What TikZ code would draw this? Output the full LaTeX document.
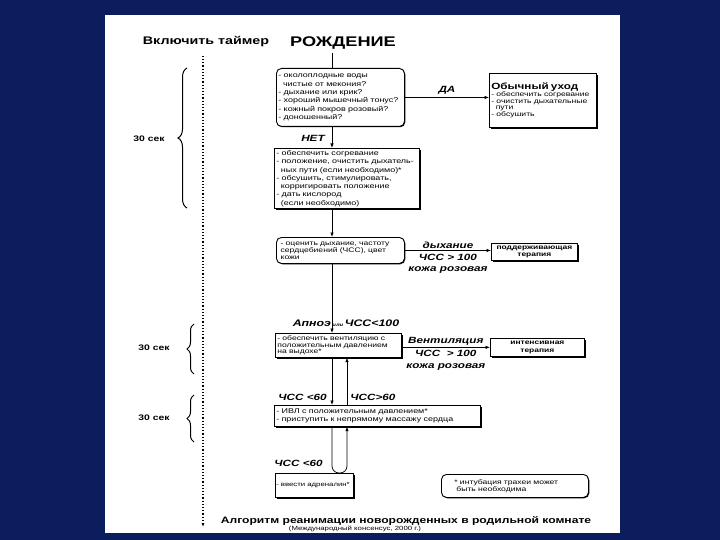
\documentclass[tikz,border=0pt]{standalone}
\usepackage{fontspec}
\setmainfont{Liberation Sans}[FakeStretch=1.3]
\usetikzlibrary{arrows.meta,positioning,shadows,calc,decorations.pathreplacing}
\definecolor{cnavy}{HTML}{0C1D5E}
\tikzset{
  box/.style={draw, fill=white, anchor=north west, align=left, inner sep=2pt, line width=0.7pt},
  sbox/.style={box, drop shadow={shadow xshift=1.8pt, shadow yshift=-1.8pt, fill=black, opacity=1}},
  rbox/.style={box, rounded corners=5pt, line width=0.9pt, drop shadow={shadow xshift=0.8pt, shadow yshift=-0.8pt, fill=black, opacity=1}},
  pre/.style={-{Latex[length=4.5pt, width=3.5pt]}, line width=0.7pt},
  lbl/.style={font=\fontsize{9}{10}\selectfont\bfseries\itshape, inner sep=1pt, align=center},
  secl/.style={font=\fontsize{8}{9}\selectfont\bfseries},
  tbrace/.style={decorate, decoration={brace, amplitude=7pt}, line width=1pt},
  big/.style={font=\fontsize{6.9}{8.3}\selectfont},
  small/.style={font=\fontsize{6.6}{6.9}\selectfont},
}
\begin{document}
\begin{tikzpicture}[x=1pt, y=-1pt]
\useasboundingbox (0,0) rectangle (720,540);
\fill[cnavy] (0,0) rectangle (720,540);
\fill[white] (105,15) rectangle (620,533);
% headings
\node[font=\fontsize{11}{12}\selectfont\bfseries] (timer) at (206,42) {Включить таймер};
\node[font=\fontsize{14}{15}\selectfont\bfseries] (birth) at (343,43) {РОЖДЕНИЕ};
\coordinate (mainx) at (332,0);
\coordinate (altx) at (347,0);
\coordinate (tend) at (203,527);
% boxes
\node[rbox, big, text width=124pt, minimum height=58pt] (assess) at (276,68) {- околоплодные воды\\\ \ чистые от мекония?\\- дыхание или крик?\\- хороший мышечный тонус?\\- кожный покров розовый?\\- доношенный?};
\node[sbox, small, text width=103pt, minimum height=54pt] (care) at (489,73) {{\fontsize{9}{10}\selectfont\bfseries Обычный уход}\\- обеспечить согревание\\- очистить дыхательные\\\ \ пути\\- обсушить};
\node[sbox, big, text width=141pt, minimum height=57pt] (steps) at (274,148) {- обеспечить согревание\\- положение, очистить дыхатель-\\\ \ ных пути (если необходимо)*\\- обсушить, стимулировать,\\\ \ корригировать положение\\- дать кислород\\\ \ (если необходимо)};
\node[rbox, small, text width=124pt, minimum height=26pt] (eval) at (276,237) {\ - оценить дыхание, частоту\\\ сердцебиений (ЧСС), цвет\\\ кожи};
\node[sbox, small, font=\fontsize{6.5}{7.5}\selectfont\bfseries, align=center, text width=82pt, minimum height=17pt] (support) at (491,243) {поддерживающая\\терапия};
\node[sbox, small, text width=122pt, minimum height=22pt] (vent) at (275,333) {- обеспечить вентиляцию с\\положительным давлением\\на выдохе*};
\node[sbox, small, font=\fontsize{6.5}{7.5}\selectfont\bfseries, align=center, text width=90pt, minimum height=18pt] (intens) at (490,338) {интенсивная\\терапия};
\node[sbox, big, text width=202pt, minimum height=21pt] (cpr) at (274,405) {- ИВЛ с положительным давлением*\\- приступить к непрямому массажу сердца};
\node[sbox, font=\fontsize{6}{7}\selectfont, text width=76pt, minimum height=24pt, inner xsep=1pt] (adren) at (275,473) {- ввести адреналин*};
\node[rbox, small, text width=145pt, minimum height=23pt, inner xsep=1pt] (note) at (441,474) {\hspace{12pt}* интубация трахеи может\\\hspace{14pt}быть необходима};
% connectors
\draw[line width=0.7pt] (birth.south -| mainx) -- (assess.north -| mainx);
\draw[pre] (assess.east) -- node[lbl, above=2pt] {ДА} (assess.east -| care.west);
\draw[pre] (assess.south -| mainx) -- node[lbl, pos=0.55, left=6pt] {НЕТ} (steps.north -| mainx);
\draw[pre] (steps.south -| mainx) -- (eval.north -| mainx);
\draw[pre] (eval.east) -- node[lbl, above=1pt] {дыхание} node[lbl, below=2pt, font=\fontsize{9}{11.5}\selectfont\bfseries\itshape] {ЧСС > 100\\кожа розовая} (eval.east -| support.west);
\draw[pre] (eval.south -| mainx) -- node[lbl, pos=0.86, xshift=14pt, font=\fontsize{9.5}{10}\selectfont\bfseries\itshape] {Апноэ\,{\fontsize{4.5}{5}\selectfont или}\,ЧСС<100} (vent.north -| mainx);
\draw[pre] (vent.east |- intens.west) -- node[lbl, above=1pt] {Вентиляция} node[lbl, below=2pt, font=\fontsize{9}{11.5}\selectfont\bfseries\itshape] {ЧСС \ > 100\\кожа розовая} (intens.west);
\draw[pre] (vent.south -| mainx) -- node[lbl, pos=0.84, left=4pt] {ЧСС <60} (cpr.north -| mainx);
\draw[pre] (cpr.north -| altx) -- node[lbl, pos=0.16, right=2pt] {ЧСС>60} (vent.south -| altx);
\draw[pre, rounded corners=7pt] (cpr.south -| mainx) -- node[lbl, pos=0.8, left=8pt] {ЧСС <60} (adren.north -| mainx) -- (adren.north -| altx) -- (cpr.south -| altx);
% timer line and braces
\draw[line width=1.2pt, dotted, -{Latex[length=4pt, width=3pt]}] (timer.south -| tend) ++(0,5) -- (tend);
\draw[tbrace, decoration={amplitude=9pt}] (187,208) -- (187,68);
\draw[tbrace] (194,374) -- (194,324);
\draw[tbrace] (194,442) -- (194,395);
\node[secl] (sec1) at (149,139) {30 сек};
\node[secl] (sec2) at (154,348) {30 сек};
\node[secl] (sec3) at (154,418) {30 сек};
% caption
\node[font=\fontsize{9.3}{10}\selectfont\bfseries] (title) at (406,521) {Алгоритм реанимации новорожденных в родильной комнате};
\node[font=\fontsize{6}{7}\selectfont] (source) at (355,529) {(Международный консенсус, 2000 г.)};
\end{tikzpicture}
\end{document}
